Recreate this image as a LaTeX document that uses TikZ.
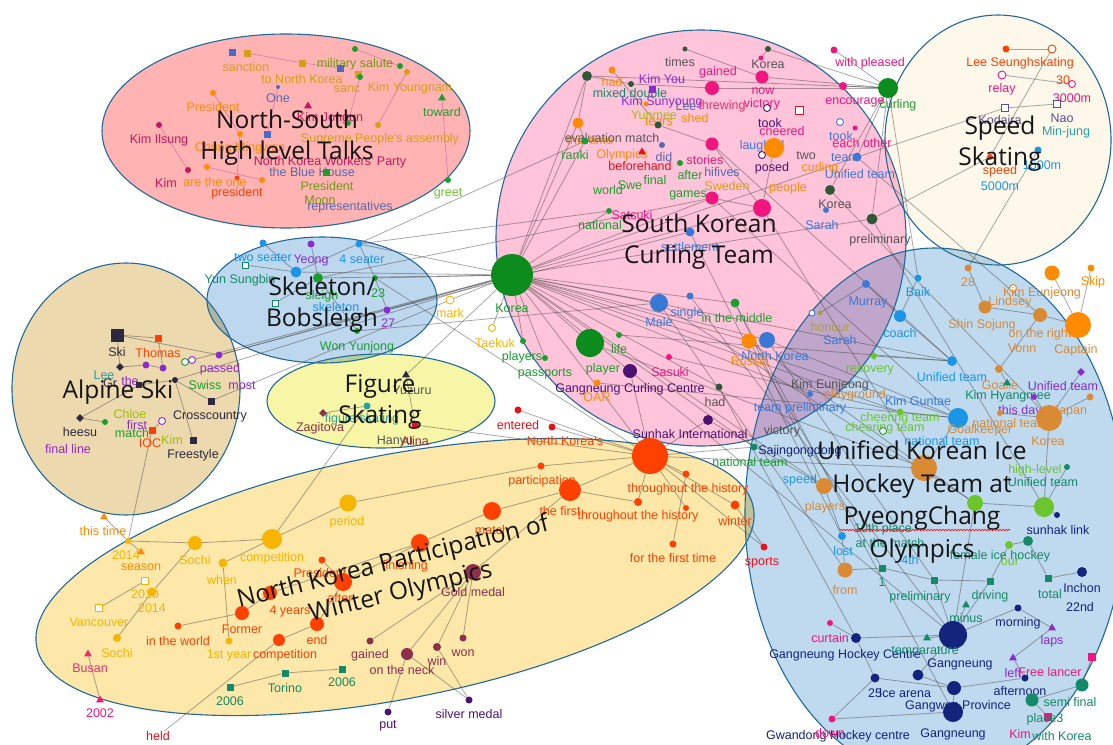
\documentclass[tikz,border=0pt]{standalone}
\usepackage{fontspec}
\usetikzlibrary{shapes.geometric,decorations.pathmorphing}
\newfontfamily\lbfam{Liberation Sans}
\newfontfamily\ttfam{Open Sans}
\definecolor{cOr}{HTML}{FF8C00}
\definecolor{cGold}{HTML}{F7B500}
\definecolor{cOchre}{HTML}{D4A017}
\definecolor{cRed}{HTML}{FF4000}
\definecolor{cRed2}{HTML}{E8101A}
\definecolor{cCrim}{HTML}{C2185B}
\definecolor{cPink}{HTML}{F0157F}
\definecolor{cGreen}{HTML}{1A9E2E}
\definecolor{cKorea}{HTML}{0C8C1C}
\definecolor{cLime}{HTML}{6CC52C}
\definecolor{cBlue}{HTML}{3A78D6}
\definecolor{cSky}{HTML}{1B96E6}
\definecolor{cPurp}{HTML}{8A2BD0}
\definecolor{cDPurp}{HTML}{4A1272}
\definecolor{cNavy}{HTML}{14237C}
\definecolor{cTeal}{HTML}{148A68}
\definecolor{cDark}{HTML}{2E2840}
\definecolor{cMaroon}{HTML}{8C2F4C}
\definecolor{cBrown}{HTML}{D98A32}
\definecolor{cGray}{HTML}{555555}
\definecolor{cSlate}{HTML}{5868B0}
\definecolor{cYG}{HTML}{9CC000}
\definecolor{cDGr}{HTML}{2F5838}
\definecolor{cOlive}{HTML}{6E9A10}
\definecolor{cBSq}{HTML}{4A6ACA}
\definecolor{cPR}{HTML}{E8306A}
\definecolor{cMP}{HTML}{5A4E8E}
\definecolor{cTeal2}{HTML}{2AA0A0}
\definecolor{cHon}{HTML}{A8A040}
\definecolor{fNS}{HTML}{FFB3B3}
\definecolor{fCur}{HTML}{FFC4D9}
\definecolor{fSpd}{HTML}{FDF8EA}
\definecolor{fSkel}{HTML}{BDD7EE}
\definecolor{fAlp}{HTML}{EDD9AE}
\definecolor{fFig}{HTML}{F7F6A6}
\definecolor{fNK}{HTML}{FDE7A9}
\definecolor{fHk}{HTML}{BFD9EE}
\definecolor{cOut}{HTML}{1F6A9A}
\pgfdeclarelayer{back}
\pgfdeclarelayer{edges}
\pgfdeclarelayer{front}
\pgfsetlayers{back,edges,main,front}
\tikzset{
 dot/.style={circle, inner sep=0pt, draw=none},
 sqn/.style={rectangle, inner sep=0pt, draw=none},
 hsq/.style={rectangle, inner sep=0pt, fill=white, line width=0.9pt},
 hcirc/.style={circle, inner sep=0pt, fill=white, line width=0.9pt},
 tri/.style={regular polygon, regular polygon sides=3, inner sep=0pt, minimum size=9pt},
 dia/.style={diamond, inner sep=0pt, minimum size=8pt},
 lbl/.style={font=\lbfam\fontsize{12.5}{14}\selectfont, inner sep=0pt},
 ttl/.style={font=\ttfam\fontsize{24.5}{31}\selectfont, align=center, text=black!92, inner sep=0pt},
 ln/.style={draw=black!75, draw opacity=0.45, line width=0.8pt},
 nsln/.style={draw=cCrim!55, line width=0.7pt},
 clus/.style={draw=cOut, line width=1.1pt},
}
\newcommand\ND[5]{\node[dot,fill=#5,minimum size=#4pt] (#1) at (#2,#3) {};}
\newcommand\NQ[5]{\node[sqn,fill=#5,minimum size=#4pt] (#1) at (#2,#3) {};}
\newcommand\NHQ[5]{\node[hsq,draw=#5,minimum size=#4pt] (#1) at (#2,#3) {};}
\newcommand\NHC[5]{\node[hcirc,draw=#5,minimum size=#4pt] (#1) at (#2,#3) {};}
\newcommand\NTR[4]{\node[tri,fill=#4] (#1) at (#2,#3) {};}
\newcommand\NDM[4]{\node[dia,fill=#4] (#1) at (#2,#3) {};}
\newcommand\NT[4]{\node[lbl,text=#1] (t#2x#3) at (#2,#3) {#4};}
\begin{document}
\begin{tikzpicture}[x=1pt,y=-1pt]
\useasboundingbox (0,0) rectangle (1113,744);
% ---------------- clusters ----------------
\begin{pgfonlayer}{back}
\fill[white] (0,0) rectangle (1113,744);
\begin{scope}[blend group=multiply]
\fill[fNS] (286,131) ellipse [x radius=184, y radius=97];
\fill[fCur] (701,238) ellipse [x radius=205, y radius=208];
\fill[fSpd] (998,140) ellipse [x radius=113, y radius=125];
\fill[fSkel] (322,300) ellipse [x radius=115, y radius=63];
\fill[fAlp] (126,389) ellipse [x radius=114, y radius=126];
\fill[fFig] (381,401) ellipse [x radius=114, y radius=47];
\fill[fNK, rotate around={11:(395,577)}] (395,577) ellipse [x radius=365, y radius=122];
\fill[fHk] (935,513) ellipse [x radius=190, y radius=265];
\end{scope}
\draw[clus] (286,131) ellipse [x radius=184, y radius=97];
\draw[clus] (701,238) ellipse [x radius=205, y radius=208];
\draw[clus] (998,140) ellipse [x radius=113, y radius=125];
\draw[clus] (322,300) ellipse [x radius=115, y radius=63];
\draw[clus] (126,389) ellipse [x radius=114, y radius=126];
\draw[clus] (381,401) ellipse [x radius=114, y radius=47];
\draw[clus, rotate around={11:(395,577)}] (395,577) ellipse [x radius=365, y radius=122];
\draw[clus] (935,513) ellipse [x radius=190, y radius=265];
\end{pgfonlayer}
% ---------------- North-South talks ----------------
\NQ{ns1}{232}{52}{7}{cBSq}
\NQ{ns2}{247}{53}{7}{cOchre}
\NT{cOchre}{246}{67}{sanction}
\NQ{ns3}{302}{63}{7}{cOchre}
\NT{cOlive}{355}{64}{military salute}
\ND{ns4}{355}{49}{6}{cGreen}
\ND{ns5}{400}{66}{6}{cGreen}
\NQ{ns6}{340}{68}{7}{cBSq}
\NQ{ns7}{358}{74}{7}{cOchre}
\ND{ns8}{407}{72}{6}{cOchre}
\ND{ns8b}{360}{77}{6}{cGreen}
\NT{cOchre}{302}{79}{to North Korea}
\ND{ns9}{278}{87}{4}{cSlate}
\NT{cSlate}{278}{98}{One}
\NT{cOchre}{347}{89}{sanc}
\NT{cOchre}{410}{88}{Kim Youngnam}
\NTR{ns10}{442}{98}{cGreen}
\NT{cGreen}{442}{112}{toward}
\ND{ns11}{213}{93}{6}{cOr}
\NT{cOr}{213}{107}{President}
\NTR{ns12}{308}{106}{cCrim}
\NT{cCrim}{330}{118}{Kim Jongun}
\ND{ns13}{159}{125}{6}{cCrim}
\NT{cCrim}{159}{140}{Kim Ilsung}
\ND{ns14}{348}{123}{6}{cGreen}
\ND{ns15}{378}{125}{6}{cOchre}
\NT{cOchre}{380}{139}{Supreme People's assembly}
\NQ{ns16}{267}{134}{7}{cBSq}
\ND{ns17}{240}{134}{6}{cOr}
\NT{cOr}{240}{148}{Chung Mingwon}
\NT{cCrim}{330}{162}{North Korea Workers' Party}
\ND{ns19}{188}{170}{6}{cCrim}
\ND{ns20}{207}{167}{6}{cOr}
\ND{ns21}{262}{180}{6}{cOr}
\ND{ns22}{237}{178}{5}{cRed}
\NT{cCrim}{166}{183}{Kim}
\NT{cOr}{215}{182}{are the one}
\NT{cRed}{237}{193}{president}
\NT{cSlate}{312}{172}{the Blue House}
\NQ{ns23}{326}{172}{7}{cGreen}
\NT{cOlive}{327}{186}{President}
\NT{cOlive}{320}{200}{Moon}
\NT{cSlate}{350}{207}{representatives}
\ND{ns24}{448}{180}{6}{cGreen}
\NT{cLime}{448}{194}{greet}
% ---------------- Curling ----------------
\ND{c1}{685}{49}{5}{cDGr}
\NT{cGray}{680}{62}{times}
\ND{c2}{768}{49}{6}{cDGr}
\NT{cGray}{768}{64}{Korea}
\ND{c3}{834}{50}{7}{cPink}
\NT{cPink}{870}{63}{with pleased}
\ND{c4}{587}{76}{10}{cDGr}
\ND{c5}{612}{70}{7}{cOr}
\NT{cOr}{612}{82}{had}
\ND{c6}{631}{84}{6}{cDGr}
\NT{cTeal}{630}{93}{mixed double}
\NQ{c7}{652}{89}{7}{cPurp}
\NT{cPurp}{662}{79}{Kim You}
\ND{c8}{712}{88}{14}{cPink}
\NT{cPink}{718}{72}{gained}
\ND{c9}{761}{58}{5}{cPink}
\ND{c10}{762}{77}{13}{cPink}
\NT{cPink}{763}{91}{now}
\ND{c11}{843}{86}{8}{cPink}
\ND{c12}{888}{88}{20}{cKorea}
\NT{cGreen}{898}{105}{curling}
\NT{cPurp}{662}{102}{Kim Sunyoung}
\NT{cSlate}{686}{106}{Lee}
\NT{cPR}{722}{106}{threwing}
\NT{cPink}{762}{104}{victory}
\NT{cPink}{855}{102}{encourage}
\ND{c13}{646}{104}{5}{cOr}
\NT{cYG}{654}{115}{Yunmee}
\NT{cOr}{659}{122}{tears}
\NT{cOr}{695}{118}{shed}
\ND{c14}{578}{123}{11}{cOr}
\NT{cOr}{590}{140}{this time}
\ND{c16}{658}{125}{7}{cDGr}
\NT{cGray}{612}{138}{evaluation match}
\NHC{c15}{767}{108}{7}{cDPurp}
\NT{cDPurp}{770}{123}{took}
\NT{cPink}{782}{131}{cheered}
\NHQ{c30}{799}{110}{8}{cRed2}
\NHC{c31}{840}{122}{7}{cBlue}
\NT{cBlue}{841}{136}{took}
\ND{c32}{855}{128}{5}{cPink}
\NT{cPink}{862}{143}{each other}
\NT{cBlue}{762}{146}{laughed}
\ND{c17}{712}{144}{13}{cPink}
\ND{c18}{774}{148}{20}{cOr}
\ND{c19}{585}{141}{7}{cGreen}
\NT{cGreen}{575}{155}{ranki}
\NT{cOr}{622}{155}{Olympics}
\NTR{c33}{642}{152}{cRed2}
\NT{cRed2}{640}{166}{beforehand}
\ND{c34}{662}{145}{6}{cSlate}
\NT{cSlate}{664}{157}{did}
\NT{cPink}{705}{160}{stories}
\NT{cGray}{806}{156}{two}
\NT{cBlue}{845}{158}{team}
\ND{c20}{857}{157}{9}{cBlue}
\NT{cSlate}{722}{172}{hifives}
\NHC{c35}{762}{155}{7}{cDPurp}
\NT{cDPurp}{772}{168}{posed}
\NT{cOr}{820}{168}{curling}
\NT{cBlue}{860}{174}{Unified team}
\ND{c36}{680}{163}{6}{cGreen}
\NT{cGreen}{630}{185}{Swe}
\NT{cGreen}{655}{180}{final}
\NT{cGreen}{690}{175}{after}
\NT{cOchre}{727}{186}{Sweden}
\NT{cOr}{788}{188}{people}
\NT{cGreen}{688}{195}{games}
\NT{cGreen}{608}{190}{world}
\ND{c21}{712}{198}{13}{cPink}
\ND{c22}{762}{208}{18}{cPink}
\ND{c23}{830}{190}{10}{cDGr}
\NT{cGray}{835}{204}{Korea}
\ND{c37}{826}{210}{6}{cBlue}
\NT{cBlue}{822}{225}{Sarah}
\ND{c24}{872}{219}{11}{cDGr}
\NT{cGray}{880}{240}{preliminary}
\ND{c25}{609}{211}{6}{cGreen}
\NT{cGreen}{600}{225}{national}
\NT{cPink}{632}{215}{Satsuki}
\ND{c26}{690}{232}{9}{cBlue}
\NT{cBlue}{690}{247}{settlement}
\ND{korea}{512}{275}{42}{cKorea}
\NT{cGreen}{512}{308}{Korea}
\ND{male}{659}{303}{18}{cBlue}
\NT{cBlue}{659}{322}{Male}
\ND{single}{690}{296}{7}{cBlue}
\NT{cBlue}{687}{313}{single}
\ND{mid}{735}{303}{9}{cGreen}
\NT{cGreen}{737}{318}{in the middle}
\ND{nkor}{767}{340}{16}{cBlue}
\NT{cBlue}{775}{356}{North Korea}
\ND{russia}{749}{341}{15}{cOr}
\NT{cOr}{750}{361}{Russia}
\NHC{tk0}{492}{328}{7}{cGold}
\NT{cGold}{495}{343}{Taekuk}
\ND{tk1}{523}{341}{6}{cGreen}
\NT{cGreen}{522}{357}{players}
\ND{pl2}{545}{358}{6}{cGreen}
\NT{cGreen}{545}{374}{passports}
\ND{player}{590}{343}{28}{cKorea}
\NT{cGreen}{603}{369}{player}
\ND{life}{619}{335}{6}{cGreen}
\NT{cGreen}{619}{349}{life}
\ND{gcc}{630}{371}{14}{cDPurp}
\NT{cDPurp}{630}{389}{Gangneung Curling Centre}
\ND{sas}{669}{357}{6}{cPink}
\NT{cPink}{670}{372}{Sasuki}
\ND{oar}{597}{383}{7}{cOr}
\NT{cOr}{597}{397}{OAR}
\ND{had}{719}{387}{7}{cDGr}
\NT{cGray}{715}{402}{had}
\ND{suph}{708}{420}{10}{cDPurp}
\NT{cDPurp}{690}{434}{Sunhak International}
\ND{ent}{518}{410}{7}{cRed2}
\NT{cRed2}{518}{425}{entered}
\ND{nks}{552}{427}{7}{cRed2}
\NT{cRed}{565}{441}{North Korea's}
\NT{cGray}{782}{431}{victory}
% ---------------- Speed skating ----------------
\ND{s1}{1006}{49}{7}{cRed}
\NHC{s2}{1052}{49}{8}{cRed}
\NT{cRed}{1000}{63}{Lee Seungh}
\NT{cRed}{1054}{63}{skating}
\NHC{s3}{1002}{75}{8}{cPink}
\NT{cPink}{1002}{89}{relay}
\NT{cRed}{1063}{80}{30}
\NHC{s4}{1072}{84}{7}{cPink}
\NT{cPink}{1072}{98}{3000m}
\NHQ{s5}{1005}{108}{7}{cMP}
\NHQ{s6}{1057}{104}{7}{cMP}
\NT{cMP}{1000}{120}{Kodaira}
\NT{cMP}{1062}{118}{Nao}
\NT{cTeal2}{1066}{132}{Min-jung}
\ND{s7}{1038}{150}{7}{cSky}
\NT{cSky}{1042}{165}{1500m}
\ND{s8}{990}{157}{6}{cRed}
\NT{cRed}{1000}{171}{speed}
\NT{cSky}{1000}{186}{5000m}
% ---------------- Skeleton ----------------
\ND{sk1}{263}{243}{7}{cSky}
\ND{sk2}{311}{244}{7}{cPurp}
\ND{sk3}{359}{244}{7}{cSky}
\NT{cSky}{263}{258}{two seater}
\NT{cPurp}{311}{260}{Yeong}
\NT{cSky}{362}{259}{4 seater}
\NHQ{sk4}{245}{265}{6}{cTeal}
\NT{cTeal}{240}{280}{Yun Sungbin}
\ND{sk5}{296}{272}{11}{cSky}
\ND{sk6}{318}{278}{10}{cGreen}
\ND{sk7}{375}{278}{6}{cGreen}
\NT{cGreen}{378}{293}{23}
\NT{cGreen}{322}{296}{sleigh}
\NT{cSky}{336}{307}{skeleton}
\NHQ{sk8}{275}{303}{6}{cTeal}
\ND{sk9}{387}{310}{7}{cPurp}
\NT{cPurp}{388}{323}{27}
\ND{sk10}{357}{331}{6}{cGreen}
\NT{cGreen}{357}{347}{Won Yunjong}
\NHC{mark}{450}{300}{8}{cGold}
\NT{cGold}{450}{313}{mark}
% ---------------- Alpine ----------------
\NQ{ski}{117}{335}{13}{cDark}
\NT{cDark}{117}{352}{Ski}
\NQ{thomas}{158}{338}{7}{cRed}
\NT{cRed}{158}{353}{Thomas}
\ND{passed}{219}{355}{7}{cPurp}
\NT{cPurp}{220}{369}{passed}
\NHC{a1}{185}{362}{7}{cGreen}
\NHC{a2}{192}{360}{7}{cPurp}
\NDM{a3}{120}{367}{cDark}
\ND{a4}{146}{365}{7}{cPurp}
\ND{a5}{163}{368}{7}{cPurp}
\NT{cTeal2}{104}{375}{Lee}
\NT{cDark}{110}{383}{Gr}
\NT{cPurp}{130}{381}{the}
\NQ{a6}{139}{385}{6}{cDark}
\ND{a7}{175}{380}{6}{cDark}
\NT{cGreen}{205}{385}{Swiss}
\NT{cPurp}{242}{386}{most}
\NQ{cross}{211}{401}{7}{cDark}
\NT{cDark}{210}{416}{Crosscountry}
\NDM{a8}{80}{418}{cDark}
\NT{cDark}{80}{432}{heesu}
\ND{a9}{105}{422}{6}{cGreen}
\NT{cGreen}{132}{433}{match}
\NT{cYG}{130}{414}{Chloe}
\NT{cPurp}{137}{425}{first}
\NHC{a10}{162}{421}{7}{cPurp}
\NQ{ioc}{152}{430}{7}{cRed}
\NT{cRed}{150}{443}{IOC}
\NT{cYG}{172}{440}{Kim}
\NQ{free}{193}{440}{7}{cDark}
\NT{cDark}{193}{455}{Freestyle}
\NT{cPurp}{68}{449}{final line}
% ---------------- Figure ----------------
\NTR{fs1}{406}{375}{cDark}
\NT{cGray}{412}{390}{Yuzuru}
\ND{fs2}{367}{406}{7}{cTeal2}
\NT{cTeal2}{362}{419}{figure skating}
\NDM{fs3}{323}{413}{cMaroon}
\NT{cMaroon}{320}{428}{Zagitova}
\NT{cGray}{395}{441}{Hanyu}
\NT{cMaroon}{415}{441}{Alina}
\ND{fs4}{415}{425}{7}{cRed2}
% ---------------- North Korea participation ----------------
\NTR{nk1}{104}{517}{cOr}
\NT{cOr}{103}{531}{this time}
\ND{nk2}{128}{541}{6}{cGold}
\NT{cGold}{126}{555}{2014}
\NTR{nk3}{141}{552}{cOr}
\NT{cOr}{141}{567}{season}
\ND{sochi}{195}{543}{14}{cGold}
\NT{cGold}{195}{560}{Sochi}
\ND{comp}{272}{539}{20}{cGold}
\NT{cGold}{272}{558}{competition}
\ND{period}{348}{503}{17}{cGold}
\NT{cGold}{347}{522}{period}
\ND{when}{223}{563}{9}{cGold}
\NT{cGold}{222}{580}{when}
\NHQ{nk4}{145}{581}{7}{cGold}
\NT{cGold}{145}{594}{2010}
\ND{nk5}{152}{592}{9}{cGold}
\NT{cGold}{152}{608}{2014}
\NHQ{nk6}{99}{608}{7}{cGold}
\NT{cGold}{99}{622}{Vancouver}
\ND{nk7}{117}{638}{8}{cGold}
\NT{cGold}{117}{653}{Sochi}
\NTR{nk8}{88}{654}{cPR}
\NT{cPR}{90}{668}{Busan}
\NTR{nk9}{100}{700}{cPink}
\NT{cPink}{100}{713}{2002}
\ND{nk10}{322}{560}{7}{cRed}
\NT{cRed}{320}{573}{President}
\ND{after}{343}{582}{18}{cRed}
\NT{cRed}{340}{598}{after}
\ND{years}{270}{593}{14}{cRed}
\NT{cRed}{290}{611}{4 years}
\ND{former}{242}{613}{14}{cRed}
\NT{cRed}{242}{629}{Former}
\ND{world}{178}{626}{7}{cRed}
\NT{cRed}{178}{641}{in the world}
\ND{first}{229}{641}{7}{cGold}
\NT{cGold}{229}{655}{1st year}
\ND{comp2}{279}{640}{12}{cRed}
\NT{cRed}{285}{655}{competition}
\ND{end}{317}{624}{14}{cRed}
\NT{cRed}{317}{640}{end}
\ND{gained}{370}{641}{7}{cMaroon}
\NT{cMaroon}{370}{655}{gained}
\ND{neck}{407}{654}{12}{cMaroon}
\NT{cMaroon}{402}{670}{on the neck}
\NQ{t1}{230}{687}{7}{cTeal}
\NT{cTeal}{230}{701}{2006}
\NQ{t2}{285}{673}{7}{cTeal}
\NT{cTeal}{285}{688}{Torino}
\NQ{t3}{342}{669}{7}{cTeal}
\NT{cTeal}{342}{682}{2006}
\node[lbl,text=cRed2] (held) at (158,736) {held};
\ND{put}{388}{712}{7}{cDPurp}
\NT{cDPurp}{388}{726}{put}
\ND{partic}{541}{466}{7}{cRed}
\NT{cRed}{542}{481}{participation}
\ND{thefirst}{570}{490}{22}{cRed}
\NT{cRed}{560}{511}{the first}
\ND{match}{492}{511}{18}{cRed}
\NT{cRed}{492}{530}{match}
\ND{finish}{420}{543}{18}{cRed}
\NT{cRed}{405}{566}{finishing}
\ND{gold}{473}{572}{16}{cMaroon}
\NT{cMaroon}{473}{592}{Gold medal}
\ND{olymp}{650}{456}{36}{cRed}
\ND{h1}{686}{474}{7}{cRed}
\NT{cRed}{688}{489}{throughout the history}
\ND{h2}{638}{502}{8}{cRed}
\NT{cRed}{638}{516}{throughout the history}
\ND{h3}{686}{508}{6}{cRed}
\ND{winter}{735}{505}{9}{cRed}
\NT{cRed}{735}{521}{winter}
\ND{ftime}{673}{544}{7}{cRed}
\NT{cRed}{673}{558}{for the first time}
\ND{won}{463}{638}{7}{cMaroon}
\NT{cMaroon}{463}{653}{won}
\ND{win}{437}{647}{8}{cMaroon}
\NT{cMaroon}{437}{661}{win}
\ND{silver}{469}{700}{7}{cDPurp}
\NT{cDPurp}{469}{714}{silver medal}
\ND{sports}{764}{547}{7}{cRed2}
\NT{cRed2}{762}{563}{sports}
\ND{natt}{754}{447}{7}{cTeal}
\NT{cGreen}{750}{462}{national team}
\NT{cNavy}{800}{451}{Sajingongdong}
% ---------------- Hockey ----------------
\ND{h28}{968}{268}{7}{cBrown}
\NT{cBrown}{968}{282}{28}
\ND{skip}{1091}{268}{7}{cOr}
\NT{cOr}{1093}{282}{Skip}
\ND{hk1}{1052}{273}{15}{cOr}
\NHC{hk0}{1013}{288}{7}{cBrown}
\NT{cBrown}{1042}{293}{Kim Eunjeong}
\ND{baik}{918}{278}{7}{cSky}
\NT{cSky}{918}{292}{Baik}
\ND{lind}{985}{307}{13}{cBrown}
\NT{cBrown}{1010}{302}{Lindsey}
\ND{hk2}{1040}{315}{14}{cBrown}
\NT{cBrown}{982}{325}{Shin Sojung}
\ND{capt}{1078}{325}{26}{cOr}
\NT{cBrown}{1076}{350}{Captain}
\NT{cBrown}{1040}{334}{on the right}
\NT{cBrown}{1022}{348}{Vonn}
\ND{coach}{900}{316}{12}{cSky}
\NT{cSky}{900}{333}{coach}
\ND{murray}{866}{284}{8}{cBlue}
\NT{cBlue}{868}{302}{Murray}
\NHC{hon0}{812}{313}{6}{cBlue}
\ND{hon}{820}{313}{5}{cHon}
\NT{cHon}{830}{327}{honour}
\NT{cBlue}{840}{340}{Sarah}
\NDM{rec}{874}{356}{cLime}
\NT{cLime}{870}{370}{recovery}
\ND{uteam}{952}{361}{10}{cSky}
\NT{cSky}{952}{377}{Unified team}
\ND{goalie}{999}{369}{8}{cBrown}
\NT{cBrown}{1000}{385}{Goalie}
\NTR{kh}{1007}{383}{cTeal}
\NT{cTeal}{1008}{396}{Kim Hyangmee}
\NDM{hk3}{1081}{372}{cPurp}
\NT{cPurp}{1063}{386}{Unified team}
\NT{cGray}{830}{385}{Kim Eunjeong}
\NT{cBrown}{855}{395}{playground}
\ND{hk4}{810}{394}{6}{cBlue}
\NT{cBlue}{800}{408}{team preliminary}
\NT{cBlue}{918}{401}{Kim Guntae}
\ND{hk5}{1090}{397}{7}{cBrown}
\NT{cBrown}{1070}{411}{Japan}
\ND{hk6}{1034}{397}{6}{cPurp}
\NT{cPurp}{1020}{411}{this day}
\ND{korea2}{1049}{418}{26}{cBrown}
\NT{cBrown}{1048}{441}{Korea}
\ND{hk7}{900}{412}{7}{cLime}
\NT{cLime}{900}{418}{cheering team}
\NT{cLime}{885}{428}{cheering team}
\NHC{hk7b}{883}{431}{7}{cGreen}
\ND{hk8}{958}{418}{20}{cSky}
\NT{cSky}{942}{441}{national team}
\ND{hk9}{1000}{413}{6}{cBrown}
\NT{cBrown}{1010}{423}{national team}
\NT{cBrown}{980}{430}{Goalkeeper}
\ND{hk10}{924}{468}{26}{cBrown}
\ND{hk11}{1044}{507}{20}{cLime}
\ND{hk12}{975}{503}{16}{cLime}
\NT{cLime}{1035}{470}{high-level}
\ND{hk13}{1067}{467}{6}{cTeal}
\NT{cTeal}{1043}{482}{Unified team}
\ND{hk14}{1057}{515}{6}{cNavy}
\NT{cNavy}{1058}{530}{sunhak link}
\ND{hk15}{824}{486}{16}{cBrown}
\NT{cSky}{800}{480}{speed}
\NT{cBrown}{825}{507}{players}
\ND{lost}{842}{536}{8}{cSky}
\NT{cSky}{843}{551}{lost}
\ND{from}{845}{570}{15}{cBrown}
\NT{cBrown}{845}{590}{from}
\NT{cTeal}{883}{529}{10th place}
\NT{cTeal}{890}{543}{at the match}
\NT{cSky}{910}{560}{4th}
\NT{cTeal}{1000}{556}{female ice hockey}
\ND{our}{1009}{545}{8}{cLime}
\NT{cLime}{1010}{562}{our}
\ND{hk16}{1028}{541}{10}{cTeal}
\NQ{one}{882}{568}{7}{cTeal}
\NT{cTeal}{882}{582}{1}
\NQ{hk17}{934}{580}{7}{cTeal}
\NQ{drv}{990}{581}{7}{cTeal}
\NT{cTeal}{990}{596}{driving}
\NQ{total}{1048}{578}{7}{cTeal}
\NT{cTeal}{1050}{594}{total}
\ND{inchon}{1082}{572}{10}{cNavy}
\NT{cNavy}{1082}{588}{Inchon}
\NT{cNavy}{1080}{607}{22nd}
\NT{cTeal}{920}{597}{preliminary}
\NTR{minus}{966}{605}{cTeal}
\NT{cTeal}{966}{618}{minus}
\ND{morning}{1018}{608}{7}{cNavy}
\NT{cNavy}{1018}{623}{morning}
\NTR{laps}{1052}{628}{cPurp}
\NT{cPurp}{1052}{641}{laps}
\ND{gn}{953}{635}{28}{cNavy}
\ND{curtain}{830}{623}{6}{cPink}
\NT{cPink}{830}{638}{curtain}
\ND{ghc}{856}{638}{10}{cNavy}
\NT{cNavy}{845}{655}{Gangneung Hockey Centre}
\NTR{temp}{927}{638}{cTeal}
\NT{cTeal}{925}{652}{temparature}
\NT{cNavy}{960}{664}{Gangneung}
\NTR{left}{1013}{658}{cPurp}
\NT{cPurp}{1013}{673}{left}
\ND{aft}{1025}{678}{7}{cNavy}
\NT{cNavy}{1020}{691}{afternoon}
\NT{cPink}{1050}{672}{Free lancer}
\NQ{fl}{1092}{657}{8}{cPink}
\ND{n25}{875}{678}{9}{cNavy}
\NT{cNavy}{875}{693}{25}
\ND{ice}{918}{675}{11}{cNavy}
\NT{cNavy}{905}{693}{Ice arena}
\ND{gw}{954}{688}{14}{cNavy}
\NT{cNavy}{958}{706}{Gangwon Province}
\ND{semi}{1082}{685}{13}{cTeal}
\NT{cTeal}{1070}{702}{semi final}
\ND{hk18}{1032}{700}{13}{cTeal}
\ND{down}{832}{719}{7}{cPink}
\NT{cNavy}{838}{736}{Gwandong Hockey centre}
\NT{cPink}{830}{733}{down}
\ND{gn2}{953}{712}{20}{cNavy}
\NT{cNavy}{953}{734}{Gangneung}
\NQ{hk19}{1048}{717}{8}{cPink}
\NT{cTeal}{1045}{719}{place3}
\NT{cPink}{1020}{734}{Kim}
\NT{cTeal}{1062}{736}{with Korea}
% ---------------- edges ----------------
\begin{pgfonlayer}{edges}
\foreach \a/\b in {ns2/ns3,ns3/ns6,ns4/ns5,ns9/ns16,ns14/ns8b,ns15/ns8,ns10/ns24,ns13/ns19,ns20/ns21,ns22/ns17,ns11/ns17}
  \draw[nsln] (\a) -- (\b);
\foreach \a/\b in {
 c4/c6,c4/c14,c2/c12,c3/c12,c11/c12,c10/c12,c8/c12,c9/c2,c5/c16,c16/c17,c6/c8,c14/c19,c17/c22,c21/c22,c18/c22,c20/c12,c23/c12,c24/c12,c1/c10,c4/c12,
 korea/sk5,korea/sk6,korea/sk7,korea/sk3,korea/sk9,korea/mark,korea/passed,korea/a2,korea/c4,korea/c14,korea/c19,korea/c25,korea/c21,korea/c22,korea/male,korea/mid,korea/russia,korea/nkor,korea/player,korea/tk1,korea/pl2,korea/gcc,korea/had,korea/uteam,korea/hk8,korea/hk7,korea/hk15,korea/natt,korea/c24,korea/c20,korea/fs1,korea/hk4,korea/tk0,
 sk1/sk5,sk2/sk6,sk3/sk7,sk4/sk5,sk8/sk6,sk9/sk7,sk10/sk6,sk5/c19,sk3/c25,sk7/olymp,sk9/c26,sk10/male,sk6/c21,
 ski/thomas,ski/passed,ski/a3,a3/a4,a4/a5,a5/thomas,a6/a7,a7/cross,a8/a9,ioc/a10,free/a7,a8/a6,cross/mark,a7/korea,passed/sk9,
 fs1/fs4,fs2/fs3,fs2/comp,fs4/olymp,
 ioc/nk2,nk1/nk2,nk2/sochi,nk3/nk2,sochi/comp,comp/period,period/partic,partic/olymp,comp/when,when/first,nk4/nk6,nk5/nk7,nk5/sochi,nk8/nk9,world/former,former/years,years/finish,finish/match,match/thefirst,thefirst/olymp,nk10/after,after/finish,comp2/end,end/after,held/comp2,gold/thefirst,gold/neck,gold/gained,gold/win,gold/won,neck/silver,win/silver,neck/put,t1/t2,t2/t3,
 olymp/h1,olymp/h2,olymp/h3,olymp/winter,olymp/natt,olymp/ent,olymp/nks,thefirst/h2,h1/ftime,winter/sports,olymp/sports,olymp/hk10,olymp/gcc,olymp/suph,olymp/korea,
 c22/hk10,c21/hk8,c17/uteam,male/hk12,single/gn,mid/hk15,russia/hk10,nkor/hk8,gcc/gn,had/ghc,suph/hk15,sas/hk7,player/hk10,c26/lost,c24/hk11,c23/korea2,c20/hk2,c12/baik,male/from,mid/gn2,russia/one,nkor/hk17,oar/hk8,life/uteam,
 s1/s2,s3/s4,s5/s6,s2/s8,s7/h28,s5/c20,s8/c24,
 capt/hk2,hk2/lind,lind/h28,skip/capt,hk1/capt,korea2/hk9,goalie/hk2,uteam/coach,coach/murray,baik/coach,hk8/hk10,hk10/hk12,hk12/hk11,hk11/korea2,hk11/hk14,inchon/total,total/hk16,drv/our,drv/hk17,hk17/one,gn/minus,gn/temp,gn/ghc,gn/morning,gn/hk17,gw/ice,gw/n25,gw/aft,gw/gn2,gn2/down,ghc/curtain,ghc/n25,aft/left,left/laps,semi/hk18,semi/fl,hk18/hk19,morning/laps,from/lost,lost/hk15,one/from,ice/gn,n25/down,hon/murray,rec/uteam,hk13/hk11,hk6/korea2,hk5/korea2,hk3/korea2,hk7/hk8,kh/goalie,gn/hk12,our/hk16,drv/gn}
  \draw[ln] (\a) -- (\b);
\end{pgfonlayer}
% ---------------- titles ----------------
\begin{pgfonlayer}{front}
\node[ttl] (tNS) at (287,138) {North-South\\High level Talks};
\node[ttl] (tCur) at (699,242) {South Korean\\Curling Team};
\node[ttl] (tSpd) at (1000,144) {Speed\\Skating};
\node[ttl] (tSk) at (322,305) {Skeleton/\\Bobsleigh};
\node[ttl] (tAl) at (118,392) {Alpine Ski};
\node[ttl] (tFig) at (380,402) {Figure\\Skating};
\node[ttl, rotate=14] (tNK) at (397,578) {North Korea Participation of\\Winter Olympics};
\node[ttl, font=\ttfam\fontsize{24.5}{32.5}\selectfont] (tHk) at (922,502) {Unified Korean Ice\\Hockey Team at\\PyeongChang\\Olympics};
\draw[red, line width=0.6pt, decorate, decoration={snake, amplitude=0.8pt, segment length=3pt}] (840,530) -- (1010,530);
\end{pgfonlayer}
\end{tikzpicture}
\end{document}
